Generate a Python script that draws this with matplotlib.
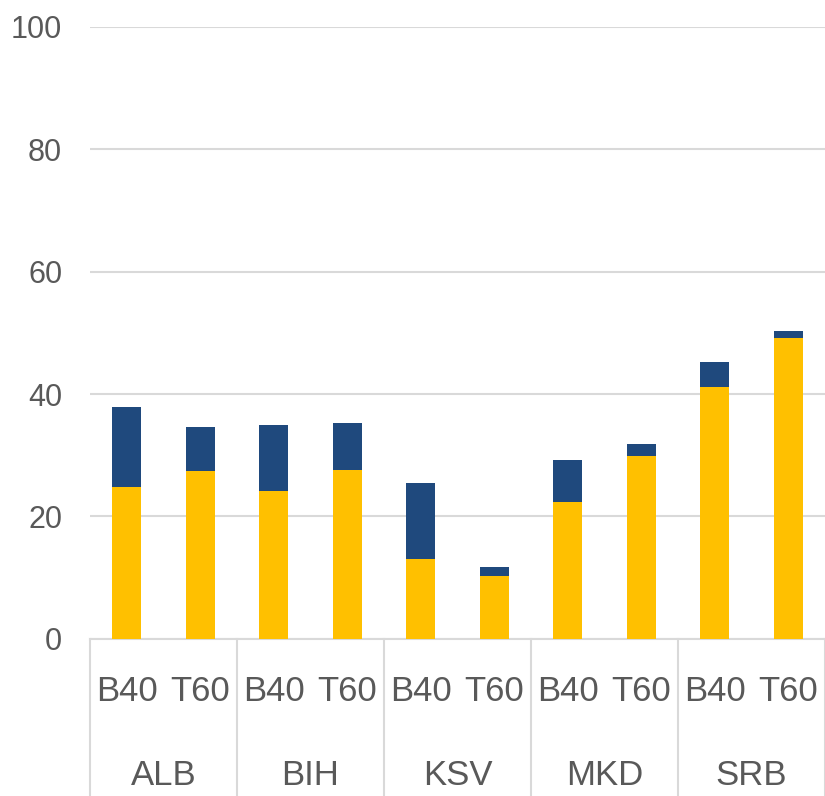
import matplotlib
matplotlib.use("Agg")
import matplotlib.pyplot as plt
import numpy as np

countries = ["ALB", "BIH", "KSV", "MKD", "SRB"]
groups = ["B40", "T60"]
# order: ALB B40, ALB T60, BIH B40, ...
lower = [24.8, 27.4, 24.2, 27.6, 13.0, 10.3, 22.4, 29.9, 41.2, 49.2]
total = [37.9, 34.6, 35.0, 35.3, 25.4, 11.8, 29.2, 31.8, 45.3, 50.3]
yticks = [0, 20, 40, 60, 80, 100]

yellow = "#FFC000"
navy = "#1F497D"
grid_c = "#D9D9D9"
txt_c = "#595959"

plt.rcParams['font.family'] = ['Liberation Sans', 'DejaVu Sans']

fig = plt.figure(figsize=(8.25, 7.96), dpi=100)
ax = fig.add_axes([90 / 825, (796 - 638.7) / 796, 735 / 825, 611.7 / 796])

x = np.arange(len(lower))
upper = [t - l for t, l in zip(total, lower)]
ax.bar(x, lower, width=0.4, color=yellow, zorder=3)
ax.bar(x, upper, bottom=lower, width=0.4, color=navy, zorder=3)

ax.set_xlim(-0.5, len(x) - 0.5)
ax.set_ylim(0, 100)
ax.set_yticks(yticks)
ax.tick_params(axis='y', length=0, pad=20, labelsize=22, labelcolor=txt_c)
ax.set_xticks([])
ax.yaxis.grid(True, color=grid_c, linewidth=1.5, zorder=0)
for s in ['top', 'right', 'left']:
    ax.spines[s].set_visible(False)
ax.spines['bottom'].set_color(grid_c)
ax.spines['bottom'].set_linewidth(1.5)

trans = ax.get_xaxis_transform()
for i in range(len(countries) + 1):
    xs = 2 * i - 0.5
    ax.plot([xs, xs], [0, -0.26], color=grid_c, lw=1.5, transform=trans, clip_on=False)
for i, c in enumerate(countries):
    for j, g in enumerate(groups):
        ax.text(2 * i + j, -0.087, g, transform=trans, ha='center', va='center',
                fontsize=25, color=txt_c)
    ax.text(2 * i + 0.5, -0.223, c, transform=trans, ha='center', va='center',
            fontsize=25, color=txt_c)

fig.savefig("out.png", dpi=100)
